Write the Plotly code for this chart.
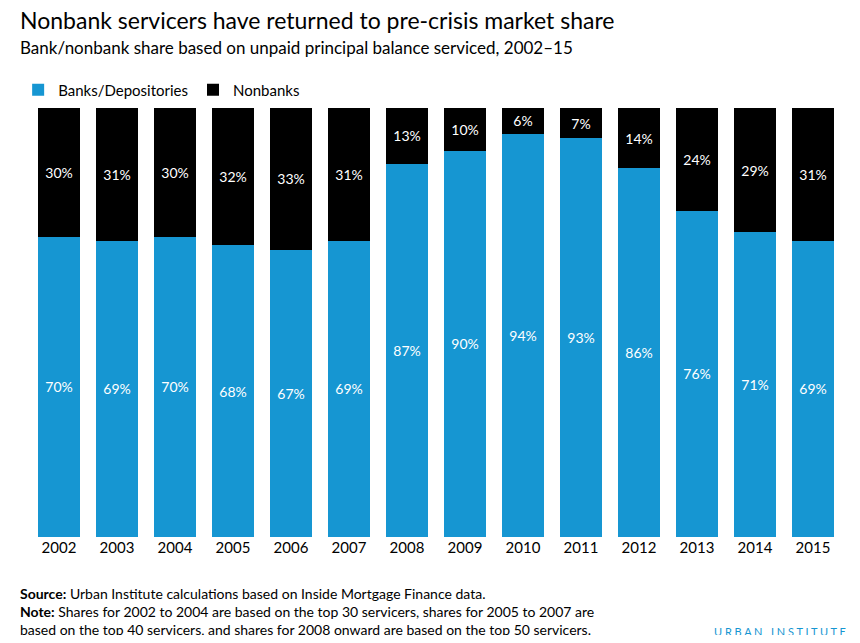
import plotly.graph_objects as go

years = ["2002", "2003", "2004", "2005", "2006", "2007", "2008",
         "2009", "2010", "2011", "2012", "2013", "2014", "2015"]
banks = [70, 69, 70, 68, 67, 69, 87, 90, 94, 93, 86, 76, 71, 69]
nonbanks = [30, 31, 30, 32, 33, 31, 13, 10, 6, 7, 14, 24, 29, 31]

# page body has an 8px margin, so the figure is drawn 8px in
OFF = 8
W, H = 860 - 2 * OFF, 643 - 2 * OFF
ML, MR, MT, MB = 20 - OFF, 10, 108 - OFF, 643 - OFF - 537
PW, PH = W - ML - MR, H - MT - MB


def px(x):
    return (x - OFF - ML) / PW


def py(y):
    return (MT + PH - (y - OFF)) / PH


fig = go.Figure()
fig.add_trace(go.Bar(
    x=years, y=banks, name="Banks/Depositories", marker_color="#1696d2",
    marker_line_width=0,
    text=[f"{v}%" for v in banks], textposition="inside",
    insidetextanchor="middle", textfont=dict(color="white", size=14),
))
fig.add_trace(go.Bar(
    x=years, y=nonbanks, name="Nonbanks", marker_color="#000000",
    marker_line_width=0,
    text=[f"{v}%" for v in nonbanks], textposition="inside",
    insidetextanchor="middle", textfont=dict(color="white", size=14),
))

fig.update_layout(
    width=W, height=H, barmode="stack", bargap=0.29,
    margin=dict(l=ML, r=MR, t=MT, b=MB),
    plot_bgcolor="white", paper_bgcolor="white",
    font=dict(family="Lato", color="#000000"),
    uniformtext=dict(minsize=14, mode="show"),
    legend=dict(orientation="h", x=px(8), y=py(90), xanchor="left",
                yanchor="middle", font=dict(size=15), traceorder="normal",
                itemwidth=30),
)
fig.update_xaxes(showline=False, ticks="", tickfont=dict(size=15))
fig.update_yaxes(visible=False, range=[0, 100])

notes = [
    (20, "Nonbank servicers have returned to pre-crisis market share", 23),
    (47, "Bank/nonbank share based on unpaid principal balance serviced, 2002\u201315", 17),
    (593, "<b>Source:</b> Urban Institute calculations based on Inside Mortgage Finance data.", 14),
    (611, "<b>Note:</b> Shares for 2002 to 2004 are based on the top 30 servicers, shares for 2005 to 2007 are", 14),
    (629, "based on the top 40 servicers, and shares for 2008 onward are based on the top 50 servicers.", 14),
]
for y, t, s in notes:
    fig.add_annotation(text=t, xref="paper", yref="paper", x=px(8), y=py(y),
                       xanchor="left", yanchor="middle", showarrow=False,
                       font=dict(size=s))
fig.add_annotation(text="U R B A N &#160; I N S T I T U T E", xref="paper", yref="paper",
                   x=px(848), y=py(631), xanchor="right", yanchor="middle",
                   showarrow=False, font=dict(size=11, color="#1696d2"))

fig.write_html("out.html")
